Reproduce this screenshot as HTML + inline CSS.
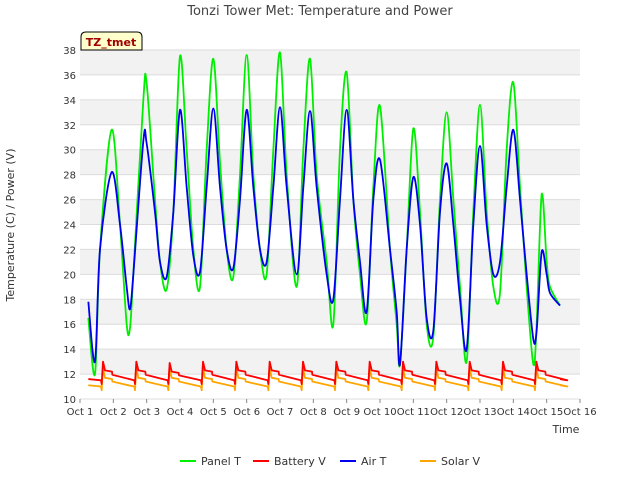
<!DOCTYPE html>
<html><head><meta charset="utf-8"><style>
body{margin:0;background:#fff;font-family:"DejaVu Sans","Liberation Sans",sans-serif}
</style></head><body>
<svg id="c" width="640" height="480" xmlns="http://www.w3.org/2000/svg" font-family="DejaVu Sans, Liberation Sans, sans-serif">
<text x="320" y="15" text-anchor="middle" font-size="13" fill="#444">Tonzi Tower Met: Temperature and Power</text>
<g id="grid"></g>
<g id="series"></g>
<g id="axes"></g>
<text x="14" y="225" transform="rotate(-90 14 225)" text-anchor="middle" font-size="11" fill="#333">Temperature (C) / Power (V)</text>
<text x="566" y="433" text-anchor="middle" font-size="11" fill="#333">Time</text>
<g>
<path d="M81,50 L81,37 Q81,32 86,32 L137,32 Q142,32 142,37 L142,50 Z" fill="#ffffcc" stroke="#000"/>
<text x="111" y="46" text-anchor="middle" font-size="11" font-weight="bold" fill="#a00000">TZ_tmet</text>
</g>
<g id="legend"></g>
</svg>
<script>
const yTicks=[10,12,14,16,18,20,22,24,26,28,30,32,34,36,38];
const xTicks=[1,2,3,4,5,6,7,8,9,10,11,12,13,14,15,16];
const panelT=[1.25,1.45,1.6,1.95,2.2,2.4,2.5,2.6,2.9,3.0,3.25,3.4,3.6,3.8,4.0,4.2,4.4,4.6,4.8,5.0,5.2,5.4,5.6,5.8,6.0,6.2,6.4,6.6,6.8,7.0,7.2,7.5,7.7,7.9,8.1,8.4,8.6,8.8,9.0,9.2,9.4,9.6,9.8,10.0,10.3,10.5,10.6,10.8,11.0,11.2,11.4,11.6,11.8,12.0,12.2,12.4,12.6,12.8,13.0,13.2,13.4,13.6,13.8,14.0,14.2,14.4,14.6,14.7,14.85,15.0,15.1,15.4];
const panelV=[16.5,12,22,31.6,24,16,15.7,20,34,35.3,26,21,18.8,25,37.5,30,22,19,30,37.3,29,22,19.8,28,37.6,28,22,20,30,37.8,28,19,30,37.3,28,21,16,30,36.2,26,20,16.2,27,33.5,22,16,12.8,22,31.7,25,16,15,26,33,26,19,13,25,33.6,25,19,18.5,30,35.4,27,19,12.8,16,26.4,21,19,17.5];
const airT=panelT;
const airV=[17.8,13,22,28.2,24,19,17.2,20,30.7,30.5,25,21,19.8,25,33.2,27,21.5,20.2,27,33.3,27,22,20.5,26,33.2,27,22,21,27,33.4,27,20,27,33.1,27,20,18,26,33.2,26,21,17,26,29.2,22,17,12.8,22,27.8,24,16.5,15.5,25,28.9,24,18,14,24,30.3,24,20,21,27,31.6,26,20,14.8,15.5,21.8,20,18.5,17.5];
const days=[1,2,3,4,5,6,7,8,9,10,11,12,13,14];
const battPeak=[13,13,12.9,13,13,13,13,13,13,13,13,13,13,13];
const battHigh=[12.3,12.3,12.2,12.3,12.3,12.3,12.3,12.3,12.3,12.3,12.3,12.3,12.3,12.3];
const battLow=[11.5,11.5,11.5,11.5,11.5,11.5,11.5,11.5,11.5,11.5,11.5,11.5,11.5,11.5];
const solarPeak=[12.5,12.5,12.4,12.5,12.5,12.5,12.5,12.5,12.5,12.5,12.5,12.5,12.5,12.5];
const solarHigh=[11.7,11.7,11.7,11.7,11.7,11.7,11.7,11.7,11.7,11.7,11.7,11.7,11.7,11.7];
const solarLow=[11.0,11.0,11.0,11.0,11.0,11.0,11.0,11.0,11.0,11.0,11.0,11.0,11.0,11.0];
const X0=80,X1=580,Y0=399,Y1=50;
const xs=d=>X0+(d-1)*(X1-X0)/15;
const ys=v=>Y0-(v-10)*(Y0-Y1)/28;
const NS="http://www.w3.org/2000/svg";
function mk(tag,attrs,parent){const e=document.createElementNS(NS,tag);for(const k in attrs)e.setAttribute(k,attrs[k]);parent.appendChild(e);return e;}
const grid=document.getElementById('grid'),axes=document.getElementById('axes'),ser=document.getElementById('series'),leg=document.getElementById('legend');
for(let i=0;i<yTicks.length-1;i++){if(i%2===1){const r=mk('rect',{x:X0,y:ys(yTicks[i+1]),width:X1-X0,height:ys(yTicks[i])-ys(yTicks[i+1]),fill:'#f2f2f2'},grid);

}}
yTicks.forEach(v=>{const l=mk('line',{x1:X0,x2:X1,y1:ys(v),y2:ys(v),stroke:'#dcdcdc'},grid);


const t=mk('text',{x:X0-4,y:ys(v)+4,'text-anchor':'end','font-size':'10',fill:'#333'},axes);t.textContent=v;

});
xTicks.forEach(d=>{const l=mk('line',{x1:xs(d),x2:xs(d),y1:Y0,y2:Y0+4,stroke:'#888'},axes);


const t=mk('text',{x:xs(d),y:Y0+16,'text-anchor':'middle','font-size':'10',fill:'#333'},axes);t.textContent='Oct '+d;

});
function line(ts,vs,color,name){const p=mk('polyline',{points:ts.map((t,i)=>xs(t)+','+ys(vs[i])).join(' '),fill:'none',stroke:color,'stroke-width':'1.8','stroke-linejoin':'round'},ser);

}
function smooth(ts,vs,color,name){const P=ts.map((t,i)=>[xs(t),ys(vs[i])]);let d='M'+P[0][0]+','+P[0][1];
for(let i=0;i<P.length-1;i++){const p0=P[Math.max(0,i-1)],p1=P[i],p2=P[i+1],p3=P[Math.min(P.length-1,i+2)];const k=0.16;
d+=' C'+(p1[0]+(p2[0]-p0[0])*k)+','+(p1[1]+(p2[1]-p0[1])*k)+' '+(p2[0]-(p3[0]-p1[0])*k)+','+(p2[1]-(p3[1]-p1[1])*k)+' '+p2[0]+','+p2[1];}
const p=mk('path',{d:d,fill:'none',stroke:color,'stroke-width':'1.8','stroke-linejoin':'round'},ser);

}
function volt(peak,high,low){const t=[1.25],v=[low[0]+0.1];days.forEach((d,i)=>{t.push(d+0.63,d+0.65,d+0.69,d+0.75,d+0.96,d+0.97,d+1.62);v.push(low[i],low[i]-0.3,peak[i],high[i],high[i]-0.1,(high[i]+low[i])/2+0.05,low[i]);});t.push(15.4);v.push(low[13]+0.1);return [t,v];}
const s=volt(solarPeak,solarHigh,solarLow);const b=volt(battPeak,battHigh,battLow);
line(s[0],s[1],'#ffa500','solar-v-line');
line(b[0],b[1],'#ff0000','battery-v-line');
smooth(panelT,panelV,'#00ee00','panel-t-line');
smooth(airT,airV,'#0000ee','air-t-line');
[['Panel T','#00ee00',180,'legend-panel-t'],['Battery V','#ff0000',253,'legend-battery-v'],['Air T','#0000ee',340,'legend-air-t'],['Solar V','#ffa500',420,'legend-solar-v']].forEach(e=>{const g=mk('g',{},leg);


mk('line',{x1:e[2],x2:e[2]+16,y1:461,y2:461,stroke:e[1],'stroke-width':'2'},g);const t=mk('text',{x:e[2]+21,y:465,'font-size':'11',fill:'#333'},g);t.textContent=e[0];});
</script>
</body></html>
